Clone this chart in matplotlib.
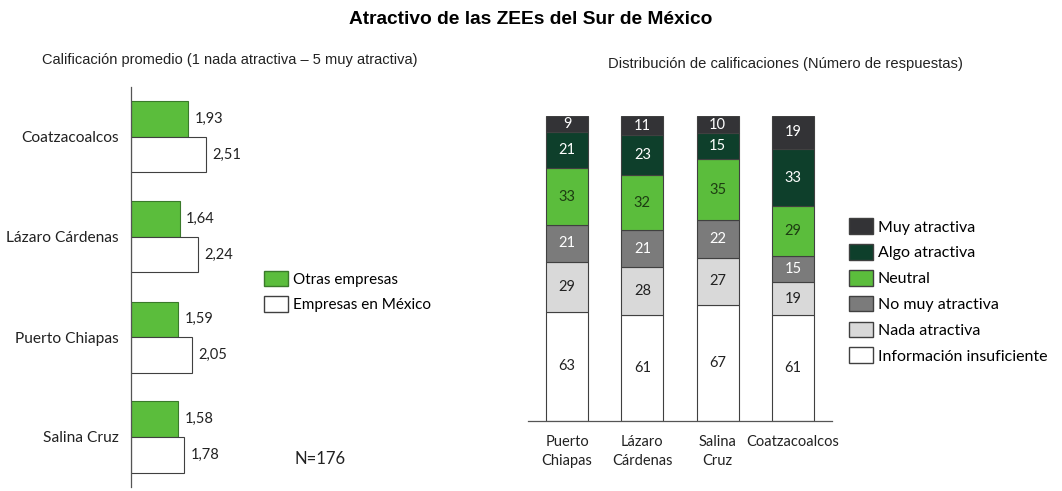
import numpy as np
import matplotlib
matplotlib.use("Agg")
import matplotlib.pyplot as plt
from matplotlib.patches import Patch

plt.rcParams['font.family'] = ['Lato', 'DejaVu Sans']

# Calificación promedio (barras horizontales)
zonas = ['Coatzacoalcos', 'Lázaro Cárdenas', 'Puerto Chiapas', 'Salina Cruz']
otras_empresas = [1.93, 1.64, 1.59, 1.58]
empresas_mexico = [2.51, 2.24, 2.05, 1.78]

# Distribución de calificaciones (barras apiladas)
zonas_dist = ['Puerto\nChiapas', 'Lázaro\nCárdenas', 'Salina\nCruz', 'Coatzacoalcos']
info_insuficiente = [63, 61, 67, 61]
nada_atractiva = [29, 28, 27, 19]
no_muy_atractiva = [21, 21, 22, 15]
neutral = [33, 32, 35, 29]
algo_atractiva = [21, 23, 15, 33]
muy_atractiva = [9, 11, 10, 19]

verde = '#5bbd3c'
borde = '#404040'

W, H = 1062, 491
fig = plt.figure(figsize=(W / 100, H / 100), dpi=100)

def px_axes(x0, y0, x1, y1):
    # y0 = arriba, y1 = abajo (en pixeles)
    return fig.add_axes([x0 / W, 1 - y1 / H, (x1 - x0) / W, (y1 - y0) / H])

fig.text(531 / W, 1 - 20 / H, 'Atractivo de las ZEEs del Sur de México',
         ha='center', va='center', fontsize=13.8, fontweight='bold',
         family='Liberation Sans')
fig.text(42 / W, 1 - 60 / H, 'Calificación promedio (1 nada atractiva – 5 muy atractiva)',
         ha='left', va='center', fontsize=10.5, family='Liberation Sans', color='#222222')
fig.text(608 / W, 1 - 64 / H, 'Distribución de calificaciones (Número de respuestas)',
         ha='left', va='center', fontsize=10.6, family='Liberation Sans', color='#222222')

# ---- panel izquierdo ----
ax1 = px_axes(131, 87, 431, 487)
y = np.arange(len(zonas))
h = 0.355
ax1.barh(y - h / 2, otras_empresas, height=h, color=verde, edgecolor='#3a7a2a', linewidth=0.8)
ax1.barh(y + h / 2, empresas_mexico, height=h, color='white', edgecolor=borde, linewidth=0.8)
for i in range(len(zonas)):
    ax1.text(otras_empresas[i] + 0.22, y[i] - h / 2, f'{otras_empresas[i]:.2f}'.replace('.', ','),
             va='center', ha='left', fontsize=10.5, color='#222222')
    ax1.text(empresas_mexico[i] + 0.22, y[i] + h / 2, f'{empresas_mexico[i]:.2f}'.replace('.', ','),
             va='center', ha='left', fontsize=10.5, color='#222222')
ax1.set_xlim(0, 300 / 29.7)
ax1.set_ylim(len(zonas) - 0.5, -0.5)
ax1.set_yticks(y)
ax1.set_yticklabels(zonas, fontsize=11.2, color='#222222')
ax1.tick_params(axis='y', length=0, pad=9)
ax1.set_xticks([])
for s in ['top', 'right', 'bottom']:
    ax1.spines[s].set_visible(False)
ax1.spines['left'].set_color('#555555')
ax1.spines['left'].set_linewidth(0.9)

fig.legend(handles=[Patch(facecolor=verde, edgecolor='#3a7a2a', label='Otras empresas'),
                    Patch(facecolor='white', edgecolor=borde, label='Empresas en México')],
           loc='center left', bbox_to_anchor=(264 / W, 1 - 291.5 / H), frameon=False,
           fontsize=11, borderpad=0, borderaxespad=0, handlelength=1.57,
           handleheight=1.18, handletextpad=0.33, labelspacing=0.65)
fig.text(295 / W, 1 - 459 / H, 'N=176', ha='left', va='center', fontsize=12, color='#222222')

# ---- panel derecho ----
ax2 = px_axes(528, 116, 832, 421)
x = np.arange(len(zonas_dist))
series = [
    (info_insuficiente, 'white', '#222222', 'Información insuficiente'),
    (nada_atractiva, '#d9d9d9', '#222222', 'Nada atractiva'),
    (no_muy_atractiva, '#7b7b7b', 'white', 'No muy atractiva'),
    (neutral, verde, '#1d3d12', 'Neutral'),
    (algo_atractiva, '#0e3f2b', 'white', 'Algo atractiva'),
    (muy_atractiva, '#333336', 'white', 'Muy atractiva'),
]
base = np.zeros(len(zonas_dist))
handles = []
for vals, col, tcol, lab in series:
    vals = np.array(vals)
    ax2.bar(x, vals, bottom=base, width=0.56, color=col, edgecolor=borde, linewidth=0.8)
    for i in range(len(x)):
        ax2.text(x[i], base[i] + vals[i] / 2, str(vals[i]), ha='center', va='center',
                 fontsize=10.5, color=tcol)
    base = base + vals
    handles.append(Patch(facecolor=col, edgecolor=borde, label=lab))
ax2.set_xlim(-0.52, 3.52)
ax2.set_ylim(0, 176)
ax2.set_xticks(x)
ax2.set_xticklabels(zonas_dist, fontsize=10.5, color='#222222', linespacing=1.45)
ax2.tick_params(axis='x', length=0, pad=10)
ax2.set_yticks([])
for s in ['top', 'right', 'left']:
    ax2.spines[s].set_visible(False)
ax2.spines['bottom'].set_color('#555555')
ax2.spines['bottom'].set_linewidth(0.9)

fig.legend(handles=handles[::-1], loc='center left', bbox_to_anchor=(849 / W, 1 - 291 / H),
           frameon=False, fontsize=11.5, borderpad=0, borderaxespad=0, handlelength=1.5,
           handleheight=1.13, handletextpad=0.3, labelspacing=0.6)

fig.savefig('out.png', dpi=100)
